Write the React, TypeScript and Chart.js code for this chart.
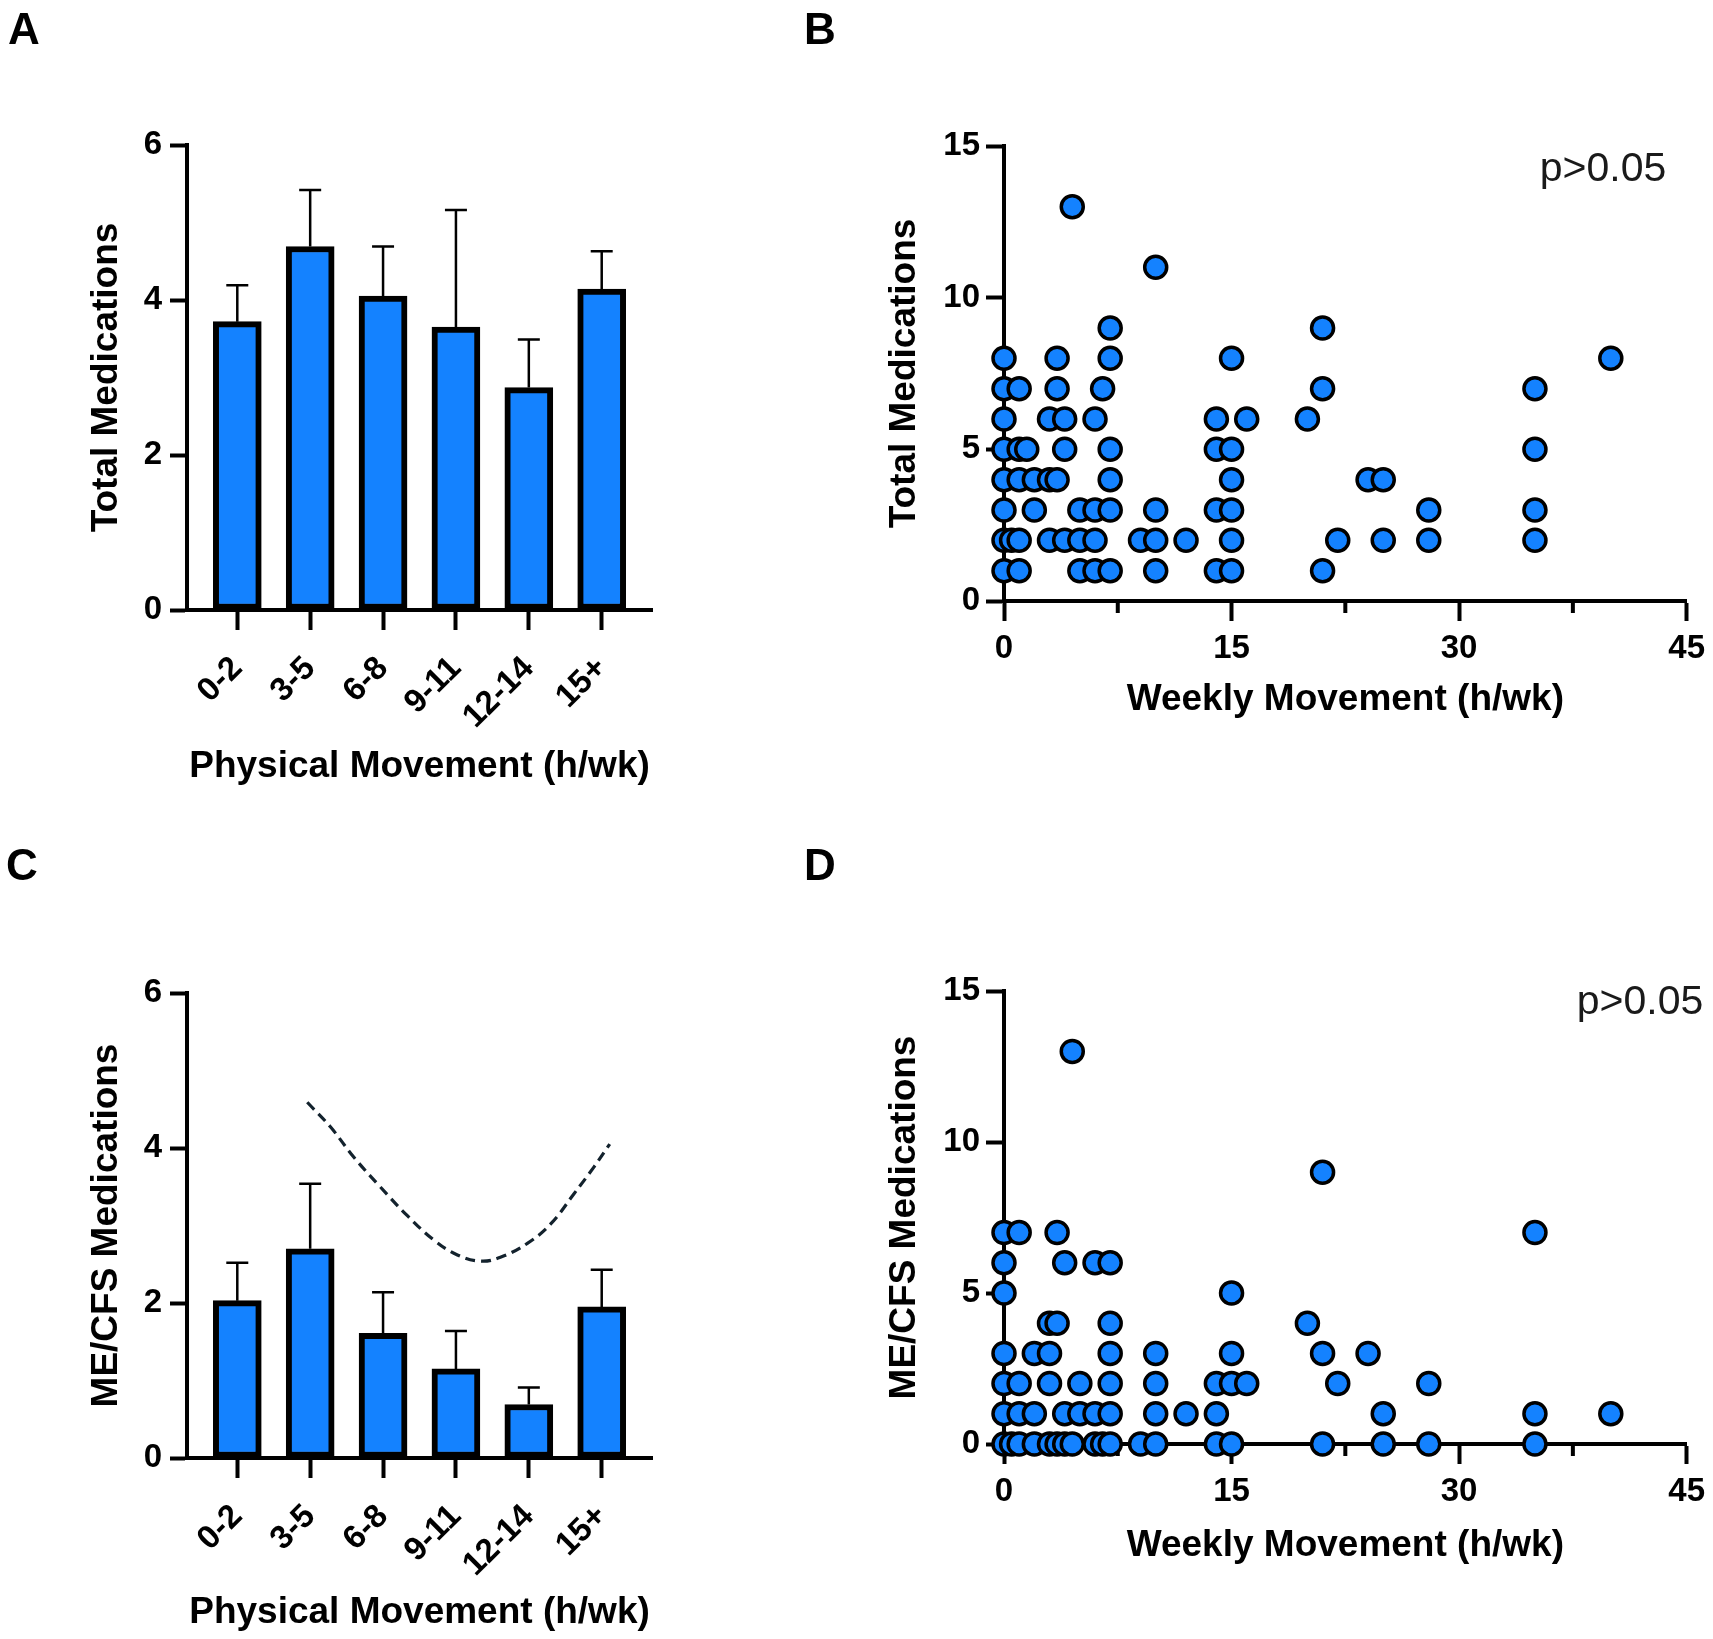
import { useEffect, useRef } from "react";
import { Chart, registerables } from "chart.js";

Chart.register(...registerables);

const FONT = "'Liberation Sans', Arial, Helvetica, sans-serif";
const BLUE = "#1482FF";

// bar panels (A, C)
const categories = ["0-2", "3-5", "6-8", "9-11", "12-14", "15+"];
const totalMeans = [3.72, 4.69, 4.05, 3.65, 2.87, 4.14];
const totalErrTop = [4.19, 5.42, 4.69, 5.16, 3.49, 4.63];
const mecfsMeans = [2.03, 2.7, 1.61, 1.15, 0.69, 1.95];
const mecfsErrTop = [2.52, 3.54, 2.14, 1.64, 0.91, 2.43];

// dashed curve over panel C, x in category positions
const trendX = [0.96, 1.28, 1.6, 1.96, 2.33, 2.7, 3.02, 3.34, 3.61, 3.98, 4.3, 4.62, 4.89, 5.11];
const trendY = [4.59, 4.27, 3.88, 3.5, 3.13, 2.81, 2.62, 2.54, 2.59, 2.77, 3.02, 3.41, 3.75, 4.05];

// scatter B: weekly hours vs total medications
const weeklyB = [
  4.5,
  10,
  7, 21,
  0, 3.5, 7, 15, 40,
  0, 1, 3.5, 6.5, 21, 35,
  0, 3, 4, 6, 14, 16, 20,
  0, 1, 1.5, 4, 7, 14, 15, 35,
  0, 1, 2, 3, 3.5, 7, 15, 24, 25,
  0, 2, 5, 6, 7, 10, 14, 15, 28, 35,
  0, 0.5, 1, 3, 4, 5, 6, 9, 10, 12, 15, 22, 25, 28, 35,
  0, 1, 5, 6, 7, 10, 14, 15, 21,
];
const totalMeds = [
  13,
  11,
  9, 9,
  8, 8, 8, 8, 8,
  7, 7, 7, 7, 7, 7,
  6, 6, 6, 6, 6, 6, 6,
  5, 5, 5, 5, 5, 5, 5, 5,
  4, 4, 4, 4, 4, 4, 4, 4, 4,
  3, 3, 3, 3, 3, 3, 3, 3, 3, 3,
  2, 2, 2, 2, 2, 2, 2, 2, 2, 2, 2, 2, 2, 2, 2,
  1, 1, 1, 1, 1, 1, 1, 1, 1,
];

// scatter D: weekly hours vs ME/CFS medications
const weeklyD = [
  4.5,
  21,
  0, 1, 3.5, 35,
  0, 4, 6, 7,
  0, 15,
  3, 3.5, 7, 20,
  0, 2, 3, 7, 10, 15, 21, 24,
  0, 1, 3, 5, 7, 10, 14, 15, 16, 22, 28,
  0, 1, 2, 4, 5, 6, 7, 10, 12, 14, 25, 35, 40,
  0, 0.5, 1, 2, 3, 3.5, 4, 4.5, 6, 6.5, 7, 9, 10, 14, 15, 21, 25, 28, 35,
];
const mecfsMeds = [
  13,
  9,
  7, 7, 7, 7,
  6, 6, 6, 6,
  5, 5,
  4, 4, 4, 4,
  3, 3, 3, 3, 3, 3, 3, 3,
  2, 2, 2, 2, 2, 2, 2, 2, 2, 2, 2,
  1, 1, 1, 1, 1, 1, 1, 1, 1, 1, 1, 1, 1,
  0, 0, 0, 0, 0, 0, 0, 0, 0, 0, 0, 0, 0, 0, 0, 0, 0, 0, 0,
];

const minorTicksX = [7.5, 22.5, 37.5];

const tickFont = (size: number) => ({ family: FONT, size, weight: "bold" as const });
const titleFont = { family: FONT, size: 37, weight: "bold" as const };

const axisBorder = { display: true, color: "#000", width: 4 };
const axisGrid = (tickLength: number) => ({
  display: true,
  offset: false,
  drawOnChartArea: false,
  drawTicks: true,
  tickLength,
  tickWidth: 4,
  tickColor: "#000",
});

const errorBars = (tops: number[]) => ({
  id: "errorBars",
  afterDatasetsDraw(chart: any) {
    const { ctx, scales } = chart;
    const meta = chart.getDatasetMeta(0);
    ctx.save();
    ctx.strokeStyle = "#000";
    ctx.lineWidth = 2.5;
    meta.data.forEach((bar: any, i: number) => {
      const top = scales.y.getPixelForValue(tops[i]);
      ctx.beginPath();
      ctx.moveTo(bar.x, bar.y);
      ctx.lineTo(bar.x, top);
      ctx.moveTo(bar.x - 11, top);
      ctx.lineTo(bar.x + 11, top);
      ctx.stroke();
    });
    ctx.restore();
  },
});

const minorTicks = {
  id: "minorTicks",
  beforeDatasetsDraw(chart: any) {
    const { ctx, scales, chartArea } = chart;
    ctx.save();
    ctx.strokeStyle = "#000";
    ctx.lineWidth = 4;
    minorTicksX.forEach((v) => {
      const px = scales.x.getPixelForValue(v);
      ctx.beginPath();
      ctx.moveTo(px, chartArea.bottom);
      ctx.lineTo(px, chartArea.bottom + 12);
      ctx.stroke();
    });
    ctx.restore();
  },
};

type Frame = { top: number; bottom: number; left: number; right: number; width: number; height: number };

const barConfig = (means: number[], errTop: number[], yTitle: string, f: Frame, xTitlePad: number, withTrend: boolean) => {
  const datasets: any[] = [
    {
      type: "bar",
      data: means.map((v, i) => ({ x: i, y: v })),
      backgroundColor: BLUE,
      borderColor: "#000",
      borderWidth: 6,
      borderSkipped: false,
      barThickness: 48,
      order: 2,
    },
  ];
  if (withTrend) {
    datasets.push({
      type: "line",
      data: trendX.map((x, i) => ({ x, y: trendY[i] })),
      borderColor: "#13222d",
      borderWidth: 3.2,
      borderDash: [10, 6],
      pointRadius: 0,
      tension: 0.4,
      fill: false,
      order: 1,
    });
  }
  return {
    type: "bar",
    data: { datasets },
    options: {
      animation: false,
      responsive: true,
      maintainAspectRatio: false,
      layout: { padding: { left: 0, top: f.top, right: f.width - f.right, bottom: 0 } },
      plugins: { legend: { display: false }, tooltip: { enabled: false } },
      scales: {
        x: {
          type: "linear",
          offset: false,
          bounds: "data",
          min: -0.69,
          max: 5.69,
          afterBuildTicks: (s: any) => {
            s.ticks = categories.map((_, i) => ({ value: i }));
          },
          afterFit: (s: any) => {
            s.height = f.height - f.bottom;
          },
          ticks: {
            autoSkip: false,
            minRotation: 45,
            maxRotation: 45,
            padding: 19,
            color: "#000",
            font: tickFont(33),
            callback: (v: any) => categories[v] ?? "",
          },
          grid: axisGrid(20),
          border: axisBorder,
          title: {
            display: true,
            text: "Physical Movement (h/wk)",
            color: "#000",
            font: titleFont,
            padding: { top: 0, bottom: xTitlePad },
          },
        },
        y: {
          min: 0,
          max: 6,
          afterFit: (s: any) => {
            s.width = f.left;
          },
          ticks: { stepSize: 2, padding: 8, color: "#000", font: tickFont(33) },
          grid: axisGrid(17),
          border: axisBorder,
          title: {
            display: true,
            text: yTitle,
            color: "#000",
            font: titleFont,
            padding: { top: 85, bottom: 0 },
          },
        },
      },
    },
    plugins: [errorBars(errTop)],
  };
};

const scatterConfig = (xs: number[], ys: number[], yTitle: string, f: Frame, xTitlePad: number) => ({
  type: "scatter",
  data: {
    datasets: [
      {
        data: xs.map((x, i) => ({ x, y: ys[i] })),
        backgroundColor: BLUE,
        borderColor: "#000",
        pointBackgroundColor: BLUE,
        pointBorderColor: "#000",
        pointBorderWidth: 3.5,
        pointRadius: 11,
        clip: false,
      },
    ],
  },
  options: {
    animation: false,
    responsive: true,
    maintainAspectRatio: false,
    layout: { padding: { left: 0, top: f.top, right: f.width - f.right, bottom: 0 } },
    plugins: { legend: { display: false }, tooltip: { enabled: false } },
    scales: {
      x: {
        type: "linear",
        min: 0,
        max: 45,
        afterFit: (s: any) => {
          s.height = f.height - f.bottom;
        },
        ticks: { stepSize: 15, padding: 8, color: "#000", font: tickFont(33) },
        grid: axisGrid(20),
        border: axisBorder,
        title: {
          display: true,
          text: "Weekly Movement (h/wk)",
          color: "#000",
          font: titleFont,
          padding: { top: 0, bottom: xTitlePad },
        },
      },
      y: {
        min: 0,
        max: 15,
        afterFit: (s: any) => {
          s.width = f.left;
        },
        ticks: { stepSize: 5, padding: 6, color: "#000", font: tickFont(33) },
        grid: axisGrid(18),
        border: axisBorder,
        title: {
          display: true,
          text: yTitle,
          color: "#000",
          font: titleFont,
          padding: { top: 27, bottom: 0 },
        },
      },
    },
  },
  plugins: [minorTicks],
});

const Panel = ({ left, top, width, height, makeConfig }: { left: number; top: number; width: number; height: number; makeConfig: () => any }) => {
  const canvasRef = useRef<HTMLCanvasElement>(null);

  useEffect(() => {
    const ctx = canvasRef.current;
    if (!ctx) return;
    const chart = new Chart(ctx, makeConfig());
    return () => {
      chart.destroy();
    };
  }, []);

  return (
    <div style={{ position: "absolute", left, top, width, height }}>
      <canvas ref={canvasRef}></canvas>
    </div>
  );
};

const letterStyle = (left: number, top: number) => ({
  position: "absolute" as const,
  left,
  top,
  fontSize: 44,
  lineHeight: "44px",
  fontWeight: "bold" as const,
  color: "#000",
});

const pStyle = (left: number, top: number) => ({
  position: "absolute" as const,
  left,
  top,
  width: 200,
  textAlign: "center" as const,
  fontSize: 41,
  lineHeight: "41px",
  color: "#1a1a1a",
});

const App = () => {
  const frameA: Frame = { left: 187, right: 652, top: 145, bottom: 610, width: 856, height: 820 };
  const frameB: Frame = { left: 148, right: 832, top: 146, bottom: 601, width: 857, height: 820 };
  const frameC: Frame = { left: 187, right: 652, top: 173, bottom: 638, width: 856, height: 819 };
  const frameD: Frame = { left: 148, right: 832, top: 171, bottom: 624, width: 857, height: 819 };

  return (
    <div
      style={{
        position: "absolute",
        left: 0,
        top: 0,
        width: 1713,
        height: 1639,
        overflow: "hidden",
        background: "#fff",
        fontFamily: FONT,
      }}
    >
      <Panel left={0} top={0} width={856} height={820}
        makeConfig={() => barConfig(totalMeans, totalErrTop, "Total Medications", frameA, 31, false)} />
      <Panel left={856} top={0} width={857} height={820}
        makeConfig={() => scatterConfig(weeklyB, totalMeds, "Total Medications", frameB, 98)} />
      <Panel left={0} top={820} width={856} height={819}
        makeConfig={() => barConfig(mecfsMeans, mecfsErrTop, "ME/CFS Medications", frameC, 4, true)} />
      <Panel left={856} top={820} width={857} height={819}
        makeConfig={() => scatterConfig(weeklyD, mecfsMeds, "ME/CFS Medications", frameD, 71)} />

      <div style={letterStyle(8, 7)}>A</div>
      <div style={letterStyle(804, 7)}>B</div>
      <div style={letterStyle(6, 843)}>C</div>
      <div style={letterStyle(804, 843)}>D</div>

      <div style={pStyle(1503, 147)}>p&gt;0.05</div>
      <div style={pStyle(1540, 980)}>p&gt;0.05</div>
    </div>
  );
};

export default App;
